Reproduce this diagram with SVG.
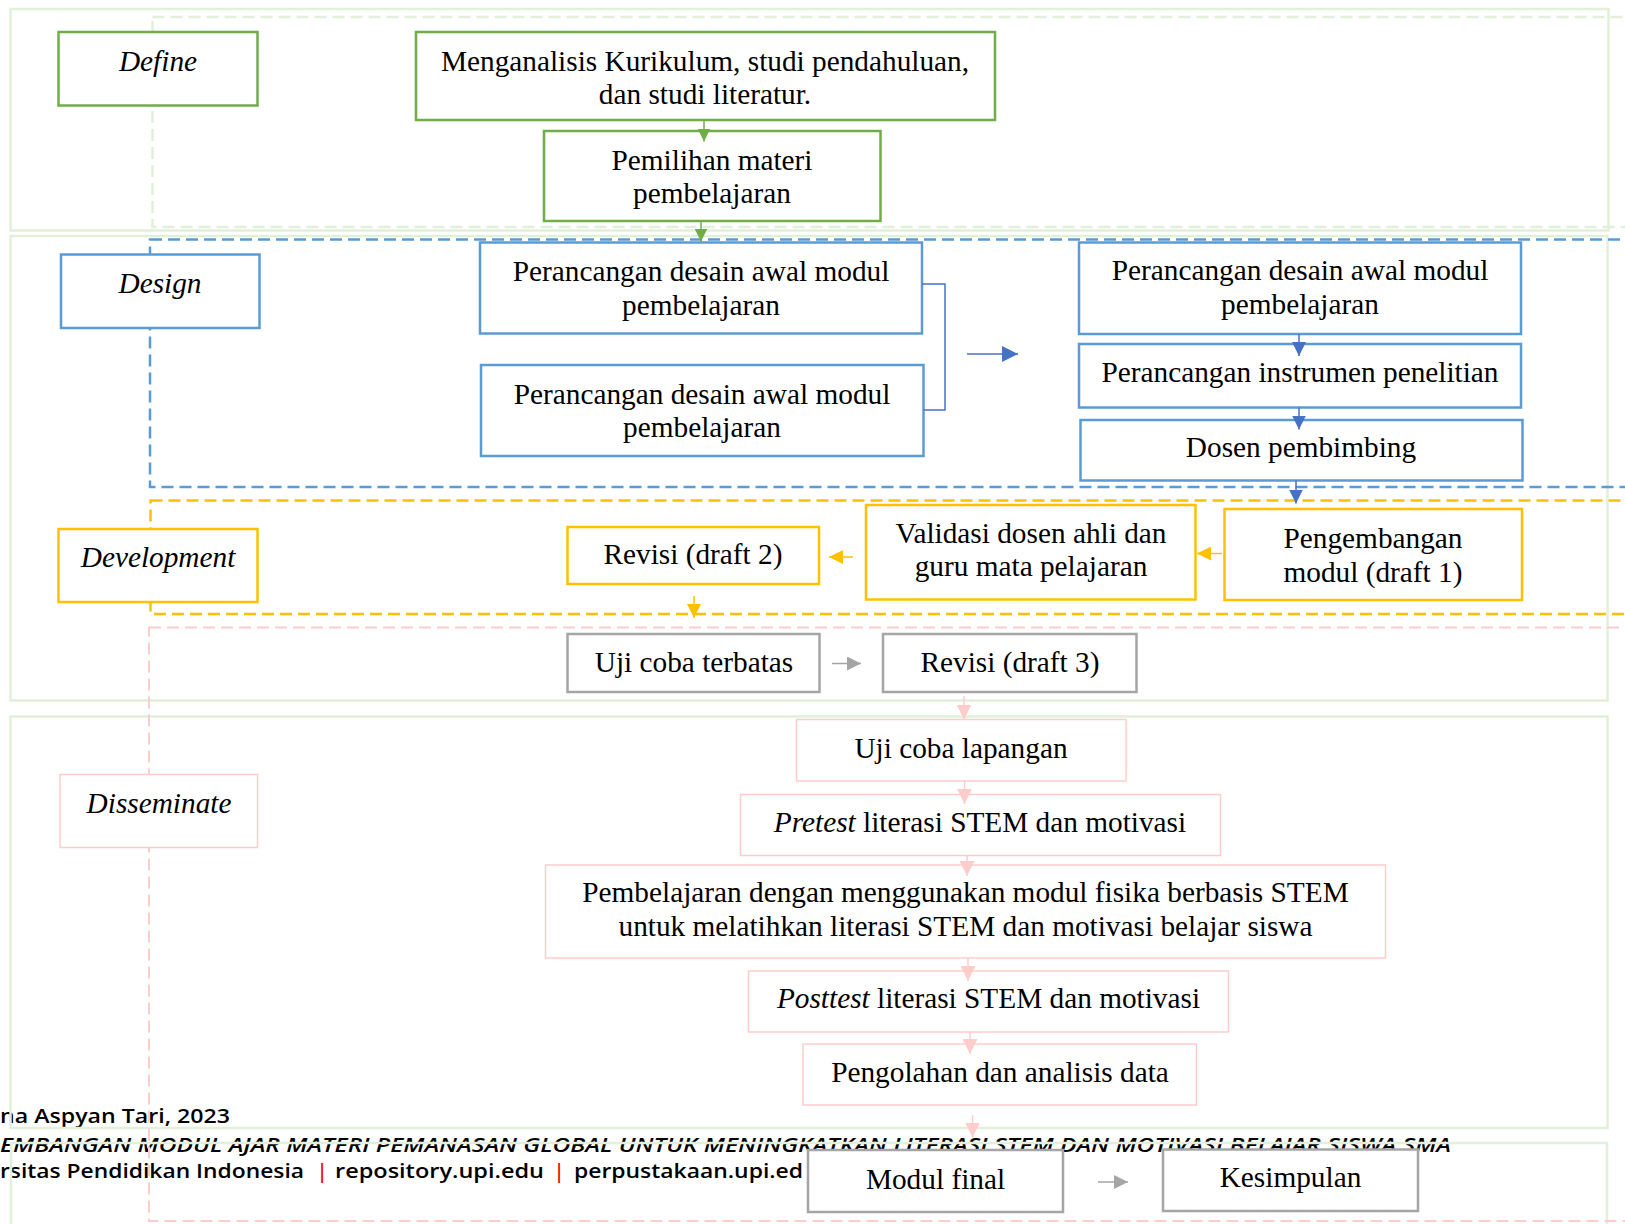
<svg xmlns="http://www.w3.org/2000/svg" width="1625" height="1224" viewBox="0 0 1625 1224">
<defs>
<style>
.bg{fill:#ffffff}
.panel{fill:none;stroke:#E2EFD9;stroke-width:2.5}
.dgreen{fill:none;stroke:#E2EFD9;stroke-width:2.5;stroke-dasharray:12 6}
.dblue{fill:none;stroke:#5B9BD5;stroke-width:2.5;stroke-dasharray:12 6}
.dyellow{fill:none;stroke:#FFC000;stroke-width:2.5;stroke-dasharray:12 6}
.dpink{fill:none;stroke:#FFCCCC;stroke-width:2;stroke-dasharray:12 6}
.bgreen{fill:#ffffff;stroke:#70AD47;stroke-width:2.5}
.bblue{fill:#ffffff;stroke:#5B9BD5;stroke-width:2.5}
.byellow{fill:#ffffff;stroke:#FFC000;stroke-width:2.5}
.bgray{fill:#ffffff;stroke:#A5A5A5;stroke-width:2.5}
.bpink{fill:#ffffff;stroke:#FFCCCC;stroke-width:1.5}
.t{font-family:"Liberation Serif","Times New Roman",serif;font-size:29.3px;fill:#000000;text-anchor:middle}
.lbl{font-family:"Liberation Serif","Times New Roman",serif;font-size:29.3px;font-style:italic;fill:#000000;text-anchor:middle}
.it{font-style:italic}
.ft{font-family:"Open Sans","DejaVu Sans",sans-serif;font-size:19.5px;font-weight:600;fill:#000000}
.bar{font-family:"Open Sans","DejaVu Sans",sans-serif;font-size:19.5px;font-weight:600;fill:#FF0000;text-anchor:middle}
.cg{stroke:#70AD47;stroke-width:1.5;fill:none}
.cb{stroke:#4472C4;stroke-width:1.5;fill:none}
.cy{stroke:#FFC000;stroke-width:1.5;fill:none}
.cgr{stroke:#A5A5A5;stroke-width:1.5;fill:none}
.cp{stroke:#FFCCCC;stroke-width:1.5;fill:none}
</style>
<marker id="ag" viewBox="0 0 12 12" markerUnits="userSpaceOnUse" markerWidth="13" markerHeight="13" refX="12" refY="6" orient="auto"><path d="M0,0 L12,6 L0,12 z" fill="#70AD47"/></marker>
<marker id="ab" viewBox="0 0 12 12" markerUnits="userSpaceOnUse" markerWidth="14" markerHeight="14" refX="12" refY="6" orient="auto"><path d="M0,0 L12,6 L0,12 z" fill="#4472C4"/></marker>
<marker id="abL" viewBox="0 0 12 12" markerUnits="userSpaceOnUse" markerWidth="16" markerHeight="16" refX="12" refY="6" orient="auto"><path d="M0,0 L12,6 L0,12 z" fill="#4472C4"/></marker>
<marker id="ay" viewBox="0 0 12 12" markerUnits="userSpaceOnUse" markerWidth="14" markerHeight="14" refX="12" refY="6" orient="auto"><path d="M0,0 L12,6 L0,12 z" fill="#FFC000"/></marker>
<marker id="agr" viewBox="0 0 12 12" markerUnits="userSpaceOnUse" markerWidth="14" markerHeight="14" refX="12" refY="6" orient="auto"><path d="M0,0 L12,6 L0,12 z" fill="#A5A5A5"/></marker>
<marker id="ap" viewBox="0 0 12 12" markerUnits="userSpaceOnUse" markerWidth="15" markerHeight="15" refX="12" refY="6" orient="auto"><path d="M0,0 L12,6 L0,12 z" fill="#FFCCCC"/></marker>
</defs>
<rect class="bg" x="0" y="0" width="1625" height="1224"/>

<g id="footer">
<text class="ft" x="0" y="1123" textLength="230" lengthAdjust="spacingAndGlyphs">na Aspyan Tari, 2023</text>
<text class="ft" x="0" y="1152" font-style="italic" textLength="1451" lengthAdjust="spacingAndGlyphs">EMBANGAN MODUL AJAR MATERI PEMANASAN GLOBAL UNTUK MENINGKATKAN LITERASI STEM DAN MOTIVASI BELAJAR SISWA SMA</text>
<text class="ft" x="0" y="1178" textLength="304" lengthAdjust="spacingAndGlyphs">rsitas Pendidikan Indonesia</text>
<text class="bar" x="322" y="1178">|</text>
<text class="ft" x="335" y="1178" textLength="209" lengthAdjust="spacingAndGlyphs">repository.upi.edu</text>
<text class="bar" x="559" y="1178">|</text>
<text class="ft" x="574" y="1178" textLength="229" lengthAdjust="spacingAndGlyphs">perpustakaan.upi.ed</text>
</g>

<g id="panels">
<rect class="panel" x="10.5" y="9" width="1598" height="221.5"/>
<rect class="panel" x="10.5" y="236" width="1597" height="464.5"/>
<rect class="panel" x="10.5" y="716.5" width="1597" height="411.5"/>
<rect class="panel" x="11" y="1143" width="1596" height="100"/>
<rect class="dgreen" x="152.5" y="17" width="1490" height="210"/>
<rect class="dblue" x="150" y="239.5" width="1490" height="247.5"/>
<rect class="dyellow" x="150.5" y="500.5" width="1490" height="113.5"/>
<rect class="dpink" x="149" y="627.5" width="1490" height="593.5"/>
</g>

<g id="label-define"><rect class="bgreen" x="58.5" y="32" width="199" height="73.5"/><text class="lbl" x="158" y="71">Define</text></g>
<g id="label-design"><rect class="bblue" x="61" y="254.5" width="198.5" height="73.5"/><text class="lbl" x="160" y="293">Design</text></g>
<g id="label-development"><rect class="byellow" x="58.5" y="529" width="199" height="73"/><text class="lbl" x="158" y="567">Development</text></g>
<g id="label-disseminate"><rect class="bpink" x="60" y="774.5" width="197.5" height="73"/><text class="lbl" x="159" y="813">Disseminate</text></g>

<g id="n-menganalisis"><rect class="bgreen" x="416" y="32" width="579" height="88"/><text class="t" x="705" y="70.5">Menganalisis Kurikulum, studi pendahuluan,</text><text class="t" x="705" y="104">dan studi literatur.</text></g>
<g id="n-pemilihan"><rect class="bgreen" x="544" y="131" width="336.5" height="90"/><text class="t" x="712" y="169.5">Pemilihan materi</text><text class="t" x="712" y="203">pembelajaran</text></g>

<g id="n-desain1"><rect class="bblue" x="480" y="242.5" width="442" height="91"/><text class="t" x="701" y="281">Perancangan desain awal modul</text><text class="t" x="701" y="315">pembelajaran</text></g>
<g id="n-desain2"><rect class="bblue" x="481" y="365" width="442.5" height="91"/><text class="t" x="702" y="403.5">Perancangan desain awal modul</text><text class="t" x="702" y="437">pembelajaran</text></g>
<g id="n-desain3"><rect class="bblue" x="1079" y="242.5" width="442" height="91.5"/><text class="t" x="1300" y="280">Perancangan desain awal modul</text><text class="t" x="1300" y="313.5">pembelajaran</text></g>
<g id="n-instrumen"><rect class="bblue" x="1079" y="344" width="442" height="63.5"/><text class="t" x="1300" y="382">Perancangan instrumen penelitian</text></g>
<g id="n-dosen"><rect class="bblue" x="1080.5" y="420" width="442" height="60.5"/><text class="t" x="1301" y="457">Dosen pembimbing</text></g>

<g id="n-pengembangan"><rect class="byellow" x="1224.5" y="509" width="297.5" height="91"/><text class="t" x="1373" y="547.5">Pengembangan</text><text class="t" x="1373" y="581.5">modul (draft 1)</text></g>
<g id="n-validasi"><rect class="byellow" x="866" y="505" width="329.5" height="94.5"/><text class="t" x="1031" y="542.5">Validasi dosen ahli dan</text><text class="t" x="1031" y="576">guru mata pelajaran</text></g>
<g id="n-revisi2"><rect class="byellow" x="567.5" y="527" width="251.5" height="57"/><text class="t" x="693" y="564">Revisi (draft 2)</text></g>

<g id="n-ujiterbatas"><rect class="bgray" x="567.5" y="634" width="252" height="58"/><text class="t" x="694" y="672">Uji coba terbatas</text></g>
<g id="n-revisi3"><rect class="bgray" x="883" y="634" width="253.5" height="58"/><text class="t" x="1010" y="672">Revisi (draft 3)</text></g>

<g id="n-ujilapangan"><rect class="bpink" x="796.5" y="719.5" width="329.5" height="61.5"/><text class="t" x="961" y="757.5">Uji coba lapangan</text></g>
<g id="n-pretest"><rect class="bpink" x="740.5" y="794.5" width="480" height="61"/><text class="t" x="980" y="832"><tspan class="it">Pretest</tspan> literasi STEM dan motivasi</text></g>
<g id="n-pembelajaran"><rect class="bpink" x="545.5" y="865" width="840" height="93"/><text class="t" x="965.5" y="902">Pembelajaran dengan menggunakan modul fisika berbasis STEM</text><text class="t" x="965.5" y="936">untuk melatihkan literasi STEM dan motivasi belajar siswa</text></g>
<g id="n-posttest"><rect class="bpink" x="748.5" y="971" width="480" height="61"/><text class="t" x="988.5" y="1007.5"><tspan class="it">Posttest</tspan> literasi STEM dan motivasi</text></g>
<g id="n-pengolahan"><rect class="bpink" x="803" y="1044" width="393.5" height="61"/><text class="t" x="1000" y="1082">Pengolahan dan analisis data</text></g>

<g id="n-modulfinal"><rect class="bgray" x="808" y="1150" width="255" height="62"/><text class="t" x="935.5" y="1188.5">Modul final</text></g>
<g id="n-kesimpulan"><rect class="bgray" x="1163" y="1149.5" width="255" height="61.5"/><text class="t" x="1290.5" y="1186.5">Kesimpulan</text></g>

<g id="connectors">
<line class="cg" x1="704" y1="120" x2="704" y2="141.5" marker-end="url(#ag)"/>
<line class="cg" x1="701" y1="221" x2="701" y2="241.5" marker-end="url(#ag)"/>
<polyline class="cb" points="922,284 945,284 945,410 923.5,410"/>
<line class="cb" x1="967" y1="354" x2="1018" y2="354" marker-end="url(#abL)"/>
<line class="cb" x1="1299" y1="334" x2="1299" y2="356" marker-end="url(#ab)"/>
<line class="cb" x1="1299" y1="407.5" x2="1299" y2="429.5" marker-end="url(#ab)"/>
<line class="cb" x1="1296" y1="480.5" x2="1296" y2="503.5" marker-end="url(#ab)"/>
<line class="cy" x1="1222" y1="553.5" x2="1197" y2="553.5" marker-end="url(#ay)"/>
<line class="cy" x1="853" y1="557" x2="829" y2="557" marker-end="url(#ay)"/>
<line class="cy" x1="694" y1="596" x2="694" y2="618" marker-end="url(#ay)"/>
<line class="cgr" x1="832" y1="663.5" x2="861" y2="663.5" marker-end="url(#agr)"/>
<line class="cp" x1="964" y1="696" x2="964" y2="719.5" marker-end="url(#ap)"/>
<line class="cp" x1="964.5" y1="781" x2="964.5" y2="804" marker-end="url(#ap)"/>
<line class="cp" x1="967" y1="855.5" x2="967" y2="876" marker-end="url(#ap)"/>
<line class="cp" x1="968" y1="958" x2="968" y2="981" marker-end="url(#ap)"/>
<line class="cp" x1="970" y1="1032" x2="970" y2="1054" marker-end="url(#ap)"/>
<line class="cp" x1="972.5" y1="1115" x2="972.5" y2="1137.5" marker-end="url(#ap)"/>
<line class="cgr" x1="1098" y1="1182" x2="1128" y2="1182" marker-end="url(#agr)"/>
</g>
</svg>
